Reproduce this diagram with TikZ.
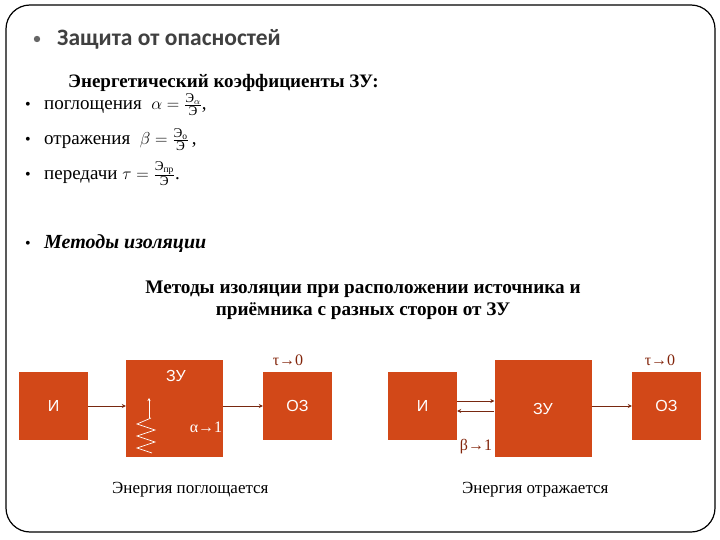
\documentclass[tikz,border=0pt]{standalone}
\usepackage{amsmath}
\usepackage{fontspec}
\setmainfont{Liberation Serif}
\newfontfamily\slidesans{Carlito}
\newfontfamily\boxsans{Liberation Sans}
\usetikzlibrary{arrows.meta}

\definecolor{boxfill}{RGB}{210,72,24}
\definecolor{arrowcol}{RGB}{120,40,16}
\definecolor{labelcol}{RGB}{130,36,10}
\definecolor{titlegray}{RGB}{64,64,64}

\tikzset{
	unit/.style={fill=boxfill, text=white, inner sep=0pt,
		font=\boxsans\fontsize{16}{18}\selectfont},
	smallunit/.style={unit, minimum width=69pt, minimum height=68pt},
	bigunit/.style={unit, minimum width=97pt, minimum height=97pt},
	flow/.style={draw=arrowcol, line width=1pt, -{Stealth[length=4pt,width=4pt]}},
	plain/.style={inner sep=0pt, anchor=base west},
	coef/.style={plain, font=\fontsize{19}{22}\selectfont},
	arrowlabel/.style={font=\fontsize{16}{18}\selectfont}
}

\begin{document}
\begin{tikzpicture}[x=1pt, y=-1pt]
	\useasboundingbox (0,0) rectangle (720,540);

	\draw
		[line width=1.2pt, rounded corners=24pt] (6,5) rectangle (715,532);

	\fill
		[titlegray!80] (37,39) circle (3.2);
	\node (title) at (57,46) [plain, text=titlegray]
		{\slidesans\bfseries\fontsize{23.5}{28}\selectfont Защита от опасностей};

	\node (coefhead) at (68,88) [plain]
		{\bfseries\fontsize{19}{22}\selectfont Энергетический коэффициенты ЗУ:};

	\foreach \y/\n in {110/a,145/b,180/c,248/d}
		\node (dot\n) at (25,\y) [plain] {\fontsize{16}{18}\selectfont •};

	\node (alpharow) at (44,110) [coef]
		{поглощения \ $\alpha=\frac{\text{Э}_{\alpha}}{\text{Э}}$,};
	\node (betarow) at (44,145) [coef]
		{отражения \ $\beta=\frac{\text{Э}_{\text{о}}}{\text{Э}}$\,,};
	\node (taurow) at (44,180) [coef]
		{передачи $\tau=\frac{\text{Э}_{\text{пр}}}{\text{Э}}$.};

	\node (methods) at (44,248) [plain]
		{\bfseries\itshape\fontsize{20}{24}\selectfont Методы изоляции};

	\node (subhead) at (363,281) [anchor=north, inner sep=0pt, align=center,
		font=\bfseries\fontsize{19.2}{21.5}\selectfont]
		{Методы изоляции при расположении источника и\\приёмника с разных сторон от ЗУ};

	% energy is absorbed
	\node (i1) at (53.5,406) [smallunit] {И};
	\node (zu1) at (174.5,408.5) [bigunit] {};
	\node (zu1name) at (176,376) [unit, fill=none] {ЗУ};
	\node (oz1) at (297.5,406) [smallunit] {ОЗ};

	\draw
		[flow] (i1.east) -- (i1.east -| zu1.west);
	\draw
		[flow] (zu1.east |- oz1.west) -- (oz1.west);

	\draw
		[white, line width=0.7pt] (151,418) -- (137,424) -- (155,430) -- (137,436)
		-- (155,442) -- (137,448) -- (152,453);
	\coordinate (up1) at (149,398);
	\draw
		[white, line width=1pt, -{Stealth[length=3pt,width=3pt]}] (149,418) -- (up1);

	\node (alpha1) at (206,427) [arrowlabel, text=white] {α→1};
	\node (tau1) at (288,360) [arrowlabel, text=labelcol] {τ→0};

	\node (cap1) at (112,493) [plain, font=\fontsize{17}{20}\selectfont] {Энергия поглощается};

	% energy is reflected
	\node (i2) at (422.5,406) [smallunit] {И};
	\node (zu2) at (543,408.5) [bigunit] {ЗУ};
	\node (oz2) at (666.5,406) [smallunit] {ОЗ};

	\draw
		[flow] ([yshift=5pt]i2.east) -- ([yshift=5pt]i2.east -| zu2.west);
	\draw
		[flow] ([yshift=-5pt]i2.east -| zu2.west) -- ([yshift=-5pt]i2.east);
	\draw
		[flow] (zu2.east |- oz2.west) -- (oz2.west);

	\node (beta2) at (476,447) [arrowlabel, text=labelcol] {β→1};
	\node (tau2) at (660,360) [arrowlabel, text=labelcol] {τ→0};

	\node (cap2) at (462,493) [plain, font=\fontsize{17}{20}\selectfont] {Энергия отражается};
\end{tikzpicture}
\end{document}
